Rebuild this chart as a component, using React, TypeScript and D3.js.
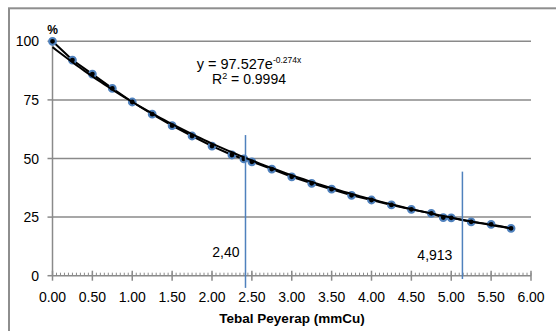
import React from 'react';
import * as d3 from 'd3';

// measured thickness (mmCu) vs. remaining intensity (%)
const thickness = [0, 0.25, 0.5, 0.75, 1, 1.25, 1.5, 1.75, 2, 2.25, 2.4, 2.5, 2.75, 3, 3.25, 3.5, 3.75, 4, 4.25, 4.5, 4.75, 4.9, 5, 5.25, 5.5, 5.75];
const percent = [100, 92.0, 86.0, 79.9, 74.1, 68.9, 64.0, 59.6, 55.3, 51.5, 49.8, 48.6, 45.5, 42.2, 39.4, 36.9, 34.3, 32.3, 30.2, 28.3, 26.6, 24.8, 24.7, 23.0, 21.9, 20.2];

const xTicks = [0, 0.5, 1, 1.5, 2, 2.5, 3, 3.5, 4, 4.5, 5, 5.5, 6];
const yTicks = [0, 25, 50, 75, 100];

// exponential trendline coefficients shown on the chart
const trendA = 97.527;
const trendB = -0.274;

// hand-drawn marker lines: x position, top and bottom (data units), label
const markerLines = [
  { x: 2.42, top: 60, bottom: -5.2, label: '2,40', labelY: 8.1, dx: -6 },
  { x: 5.14, top: 44.4, bottom: -1.4, label: '4,913', labelY: 6.7, dx: -10 },
];

const font = '"Liberation Sans", Arial, sans-serif';
const gridColor = '#8a8a8a';
const blue = '#4f81bd';

export default function App() {
  const width = 556;
  const height = 331;

  const x = d3.scaleLinear().domain([0, 6]).range([52.5, 531]);
  const y = d3.scaleLinear().domain([0, 100]).range([275.7, 41.3]);

  const points = thickness.map((t, i) => ({ t, p: percent[i] }));

  const dataLine = d3.line<{ t: number; p: number }>()
    .x(d => x(d.t))
    .y(d => y(d.p));

  const trendPts = d3.range(0, 5.7501, 0.05).map(t => ({ t, p: trendA * Math.exp(trendB * t) }));
  const trendLine = d3.line<{ t: number; p: number }>()
    .x(d => x(d.t))
    .y(d => y(d.p))
    .curve(d3.curveMonotoneX);

  const minorTicks = d3.range(0, 6.0001, 0.05);
  const fmt = d3.format('.2f');

  return (
    <svg width={width} height={height} style={{ position: 'absolute', left: 0, top: 0, background: '#fff' }} fontFamily={font}>
      {/* chart border (runs past the picture's edge) */}
      <rect x={9} y={8.3} width={600} height={400} fill="none" stroke="#8e8e8e" strokeWidth={2} />

      {/* horizontal gridlines */}
      {yTicks.filter(v => v > 0).map(v => (
        <line key={v} x1={x(0)} x2={x(6)} y1={y(v)} y2={y(v)} stroke={gridColor} strokeWidth={1.5} />
      ))}

      {/* y axis */}
      <line x1={x(0)} x2={x(0)} y1={y(100)} y2={y(0)} stroke={gridColor} strokeWidth={1.5} />
      {yTicks.map(v => (
        <g key={v}>
          <line x1={x(0) - 5} x2={x(0)} y1={y(v)} y2={y(v)} stroke={gridColor} strokeWidth={1.5} />
          <text x={39} y={y(v) + 5} textAnchor="end" fontSize={14} fill="#000">{v}</text>
        </g>
      ))}
      <text x={x(0)} y={34} textAnchor="middle" fontSize={12} fontWeight="bold" fill="#000">%</text>

      {/* x axis */}
      <line x1={x(0)} x2={x(6)} y1={y(0)} y2={y(0)} stroke={gridColor} strokeWidth={1.5} />
      {minorTicks.map((t, i) => (
        <line key={i} x1={x(t)} x2={x(t)} y1={y(0) - 3} y2={y(0)} stroke={gridColor} strokeWidth={1} />
      ))}
      {xTicks.map(t => (
        <g key={t}>
          <line x1={x(t)} x2={x(t)} y1={y(0) - 5} y2={y(0) + 5} stroke={gridColor} strokeWidth={1.5} />
          <text x={x(t)} y={301.5} textAnchor="middle" fontSize={14} fill="#000">{fmt(t)}</text>
        </g>
      ))}
      <text x={292} y={323} textAnchor="middle" fontSize={13.5} fontWeight="bold" fill="#000">Tebal Peyerap (mmCu)</text>

      {/* data series */}
      <path d={dataLine(points) ?? ''} fill="none" stroke="#000" strokeWidth={2} />
      {points.map((d, i) => (
        <circle key={i} cx={x(d.t)} cy={y(d.p)} r={3.4} fill="#000" stroke={blue} strokeWidth={2} />
      ))}

      {/* exponential trendline */}
      <path d={trendLine(trendPts) ?? ''} fill="none" stroke="#000" strokeWidth={2} />

      {/* equation */}
      <text x={249} y={69} textAnchor="middle" fontSize={14.5} fill="#000">
        y = 97.527e<tspan fontSize={8.5} dy={-6}>-0.274x</tspan>
      </text>
      <text x={249} y={83.5} textAnchor="middle" fontSize={14} fill="#000">
        R<tspan fontSize={9} dy={-5}>2</tspan><tspan dy={5}> = 0.9994</tspan>
      </text>

      {/* marker lines */}
      {markerLines.map(m => (
        <g key={m.label}>
          <line x1={x(m.x)} x2={x(m.x)} y1={y(m.top)} y2={y(m.bottom)} stroke={blue} strokeWidth={1.5} />
          <text x={x(m.x) + m.dx} y={y(m.labelY)} textAnchor="end" fontSize={14} fill="#000">{m.label}</text>
        </g>
      ))}
    </svg>
  );
}
